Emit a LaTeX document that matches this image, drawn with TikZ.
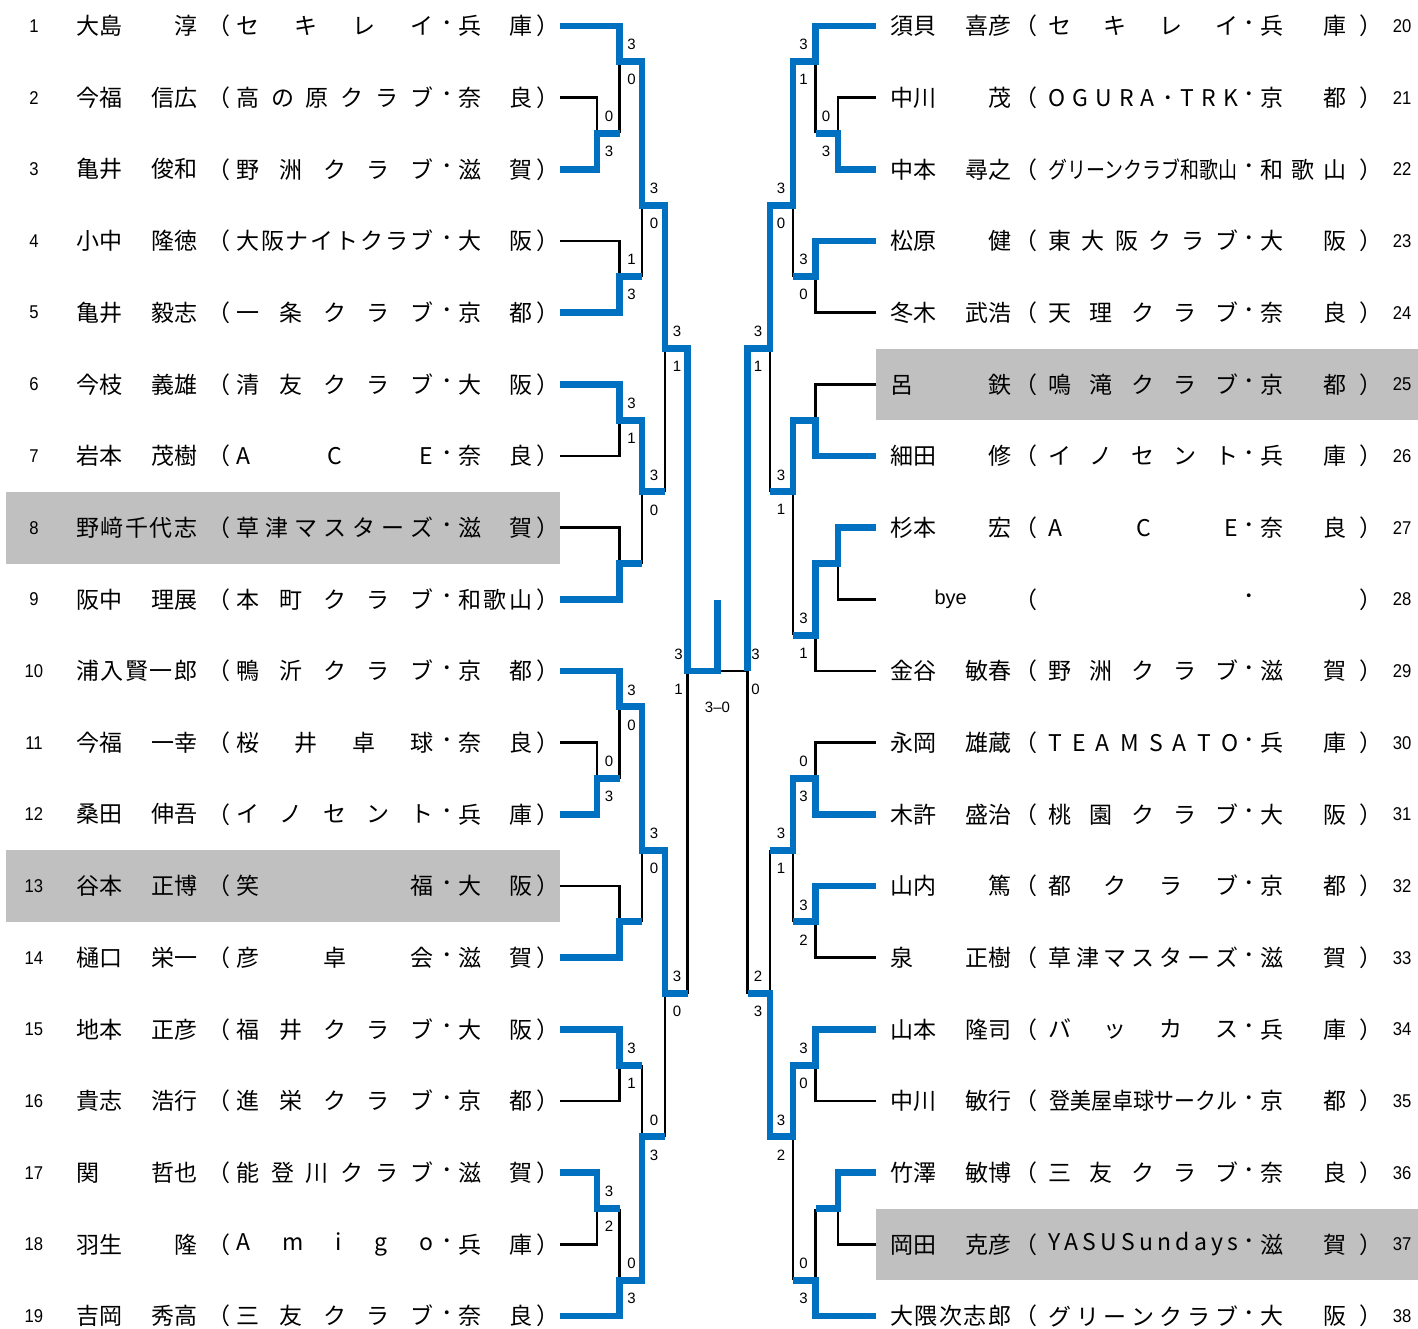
\documentclass[tikz,border=0pt]{standalone}
\usepackage{fontspec}
\setmainfont{Noto Sans CJK JP}
\newfontfamily\numfont{Liberation Sans}
\usepackage{tikz}
\definecolor{winblue}{HTML}{0070C0}
\definecolor{holdgray}{HTML}{C0C0C0}
\tikzstyle{win}=[draw=winblue,line width=6.8pt]
\tikzstyle{lose}=[draw=black,line width=2.8pt]
\tikzstyle{txt}=[inner sep=0pt,anchor=west,font=\fontsize{23}{26}\selectfont]
\tikzstyle{mid}=[inner sep=0pt,font=\fontsize{23}{26}\selectfont]
\tikzstyle{rownum}=[inner sep=0pt,font=\numfont\fontsize{18.5}{20}\selectfont]
\tikzstyle{score}=[inner sep=0pt,font=\numfont\fontsize{15}{16}\selectfont]

\newcommand\spread[2]{\makebox[#1][s]{\spaceskip=0pt plus 1fil\relax #2}}
\newcommand\lentry[4]{%
  \pgfmathsetmacro\ry{26+(#1-1)*71.667}
  \node[rownum] (num#1) at (34,\ry) {\scalebox{0.9}[1]{#1}};
  \node[txt] (name#1) at (76,\ry) {\spread{121pt}{#2}};
  \node[txt] (lp#1) at (207,\ry) {（};
  \node[txt] (club#1) at (236,\ry) {\spread{197pt}{#3}};
  \node[mid] (dot#1) at (447,\ry) {･};
  \node[txt] (pref#1) at (458,\ry) {\spread{74pt}{#4}};
  \node[txt] (rp#1) at (536,\ry) {）};
}
\newcommand\rentry[4]{%
  \pgfmathsetmacro\ry{26+(#1-20)*71.667}
  \node[rownum] (num#1) at (1402,\ry) {\scalebox{0.9}[1]{#1}};
  \node[txt] (name#1) at (890,\ry) {\spread{121pt}{#2}};
  \node[txt] (lp#1) at (1014,\ry) {（};
  \node[txt] (club#1) at (1048,\ry) {\spread{190pt}{#3}};
  \node[mid] (dot#1) at (1249,\ry) {･};
  \node[txt] (pref#1) at (1260,\ry) {\spread{86pt}{#4}};
  \node[txt] (rp#1) at (1359,\ry) {）};
}

\begin{document}
\begin{tikzpicture}[x=1pt,y=-1pt]
    \useasboundingbox (0,0) rectangle (1418,1329);
    \fill[holdgray] (6,491.7) rectangle (560,563.7);
    \fill[holdgray] (6,850) rectangle (560,922);
    \fill[holdgray] (876,348.5) rectangle (1418,420.3);
    \fill[holdgray] (876,1208.5) rectangle (1418,1280.3);

    \lentry{1}{大島\hfill 淳}{セ キ レ イ}{兵 庫}
    \lentry{2}{今福\hfill 信広}{高 の 原 ク ラ ブ}{奈 良}
    \lentry{3}{亀井\hfill 俊和}{野 洲 ク ラ ブ}{滋 賀}
    \lentry{4}{小中\hfill 隆徳}{大 阪 ナ イ ト ク ラ ブ}{大 阪}
    \lentry{5}{亀井\hfill 毅志}{一 条 ク ラ ブ}{京 都}
    \lentry{6}{今枝\hfill 義雄}{清 友 ク ラ ブ}{大 阪}
    \lentry{7}{岩本\hfill 茂樹}{A C E}{奈 良}
    \lentry{8}{野 﨑 千 代 志}{草 津 マ ス タ ー ズ}{滋 賀}
    \lentry{9}{阪中\hfill 理展}{本 町 ク ラ ブ}{和 歌 山}
    \lentry{10}{浦 入 賢 一 郎}{鴨 沂 ク ラ ブ}{京 都}
    \lentry{11}{今福\hfill 一幸}{桜 井 卓 球}{奈 良}
    \lentry{12}{桑田\hfill 伸吾}{イ ノ セ ン ト}{兵 庫}
    \lentry{13}{谷本\hfill 正博}{笑 福}{大 阪}
    \lentry{14}{樋口\hfill 栄一}{彦 卓 会}{滋 賀}
    \lentry{15}{地本\hfill 正彦}{福 井 ク ラ ブ}{大 阪}
    \lentry{16}{貴志\hfill 浩行}{進 栄 ク ラ ブ}{京 都}
    \lentry{17}{関\hfill 哲也}{能 登 川 ク ラ ブ}{滋 賀}
    \lentry{18}{羽生\hfill 隆}{A m i g o}{兵 庫}
    \lentry{19}{吉岡\hfill 秀高}{三 友 ク ラ ブ}{奈 良}

    \rentry{20}{須貝\hfill 喜彦}{セ キ レ イ}{兵 庫}
    \rentry{21}{中川\hfill 茂}{O G U R A ･ T R K}{京 都}
    \rentry{22}{中本\hfill 尋之}{\hfil\scalebox{0.825}[1]{グリーンクラブ和歌山}\hfil}{和 歌 山}
    \rentry{23}{松原\hfill 健}{東 大 阪 ク ラ ブ}{大 阪}
    \rentry{24}{冬木\hfill 武浩}{天 理 ク ラ ブ}{奈 良}
    \rentry{25}{呂\hfill 鉄}{鳴 滝 ク ラ ブ}{京 都}
    \rentry{26}{細田\hfill 修}{イ ノ セ ン ト}{兵 庫}
    \rentry{27}{杉本\hfill 宏}{A C E}{奈 良}
    \rentry{28}{\hfill{\numfont\fontsize{20}{22}\selectfont bye}\hfill}{}{}
    \rentry{29}{金谷\hfill 敏春}{野 洲 ク ラ ブ}{滋 賀}
    \rentry{30}{永岡\hfill 雄蔵}{T E A M S A T O}{兵 庫}
    \rentry{31}{木許\hfill 盛治}{桃 園 ク ラ ブ}{大 阪}
    \rentry{32}{山内\hfill 篤}{都 ク ラ ブ}{京 都}
    \rentry{33}{泉\hfill 正樹}{草 津 マ ス タ ー ズ}{滋 賀}
    \rentry{34}{山本\hfill 隆司}{バ ッ カ ス}{兵 庫}
    \rentry{35}{中川\hfill 敏行}{\hfil\scalebox{0.91}[1]{登美屋卓球サークル}\hfil}{京 都}
    \rentry{36}{竹澤\hfill 敏博}{三 友 ク ラ ブ}{奈 良}
    \rentry{37}{岡田\hfill 克彦}{Y A S U S u n d a y s}{滋 賀}
    \rentry{38}{大 隈 次 志 郎}{グ リ ー ン ク ラ ブ}{大 阪}

    \foreach \i in {1,...,19}
    \coordinate (p\i) at (560,{26+(\i-1)*71.667});
    \foreach \i in {20,...,38}
    \coordinate (p\i) at (876,{26+(\i-20)*71.667});
    \foreach \m/\x/\r in {a1/597/2,a2/619.5/1,a3/619.5/4,a4/642/3,a5/619.5/6,a6/619.5/8,a7/642/7,a8/665/5,
        b1/597/11,b2/619.5/10,b3/619.5/13,b4/642/12,b5/619.5/15,b6/597/17,b7/619.5/18,b8/642/16,b9/665/14,
        c1/838/2,c2/815.5/1,c3/815.5/4,c4/793/3,c5/815.5/6,c6/838/8,c7/815.5/9,c8/793/7,c9/770/5,
        d1/815.5/11,d2/815.5/13,d3/793/12,d4/815.5/15,d5/838/17,d6/815.5/18,d7/793/16,d8/770/14}
    \coordinate (\m) at (\x,{26+(\r-0.5)*71.667});
    \coordinate (s1) at (687.5,671);
    \coordinate (s2) at (747.5,671);
    \coordinate (fin) at (717.5,671);
    \coordinate (champ) at (717.5,600);

    \foreach \from/\to in {p2/a1,p4/a3,p7/a5,p8/a6,p11/b1,p13/b3,p16/b5,p18/b6,
        p21/c1,p24/c3,p25/c5,p28/c6,p29/c7,p30/d1,p33/d2,p35/d4,p37/d5}
    \draw[lose] (\from) -| (\to);
    \foreach \from/\to in {a1/a2,a3/a4,a7/a8,a6/a7,b9/s1,b1/b2,b3/b4,b5/b8,b6/b7,b8/b9,
        c1/c2,c3/c4,c8/c9,c7/c8,d3/d8,d2/d3,d8/s2,d5/d6,d6/d7}
    \draw[lose] (\to |- \from) -- (\to);
    \draw[lose] (s2) -- (fin);

    \foreach \who/\from/\to in {p3/a1/a2,p5/a3/a4,p9/a6/a7,p12/b1/b2,p14/b3/b4,p15/b5/b8,p17/b6/b7,
        p22/c1/c2,p23/c3/c4,p32/d2/d3,p36/d5/d6,p38/d6/d7}
    \draw[win] (\who) -| (\from) -- (\to |- \from);
    \draw[win] (p6) -| (a5) -| (a7) -- (a8 |- a7);
    \draw[win] (p10) -| (b2) -| (b4) -| (b9) -- (s1 |- b9);
    \draw[win] (p19) -| (b7) -| (b8) -- (b9 |- b8);
    \draw[win] (p26) -| (c5) -| (c8) -- (c9 |- c8);
    \draw[win] (p27) -| (c6) -| (c7) -- (c8 |- c7);
    \draw[win] (p31) -| (d1) -| (d3) -- (d8 |- d3);
    \draw[win] (p34) -| (d4) -| (d7) -| (d8) -- (s2 |- d8);
    \draw[win] (p20) -| (c2) -| (c4) -| (c9) -| (s2);
    \draw[win] (p1) -| (a2) -| (a4) -| (a8) -| (s1) -- (fin) -- (champ);

    \foreach \m/\up/\lo in {a1/0/3,a2/3/0,a3/1/3,a4/3/0,a5/3/1,a7/3/0,a8/3/1,
        b1/0/3,b2/3/0,b4/3/0,b5/3/1,b6/3/2,b7/0/3,b8/0/3,b9/3/0}
    \path (\m) ++(12,-17) node[score] (u\m) {\up} ++(0,35) node[score] (l\m) {\lo};
    \foreach \m/\up/\lo in {c1/0/3,c2/3/1,c3/3/0,c4/3/0,c7/3/1,c8/3/1,c9/3/1,
        d1/0/3,d2/3/2,d3/3/1,d4/3/0,d6/0/3,d7/3/2,d8/2/3}
    \path (\m) ++(-12,-17) node[score] (u\m) {\up} ++(0,35) node[score] (l\m) {\lo};
    \path (s1) ++(-9,-17) node[score] (us1) {3} ++(0,35) node[score] (ls1) {1};
    \path (s2) ++(8,-17) node[score] (us2) {3} ++(0,35) node[score] (ls2) {0};
    \node[score] (res) at (717.5,707) {3–0};
\end{tikzpicture}
\end{document}
